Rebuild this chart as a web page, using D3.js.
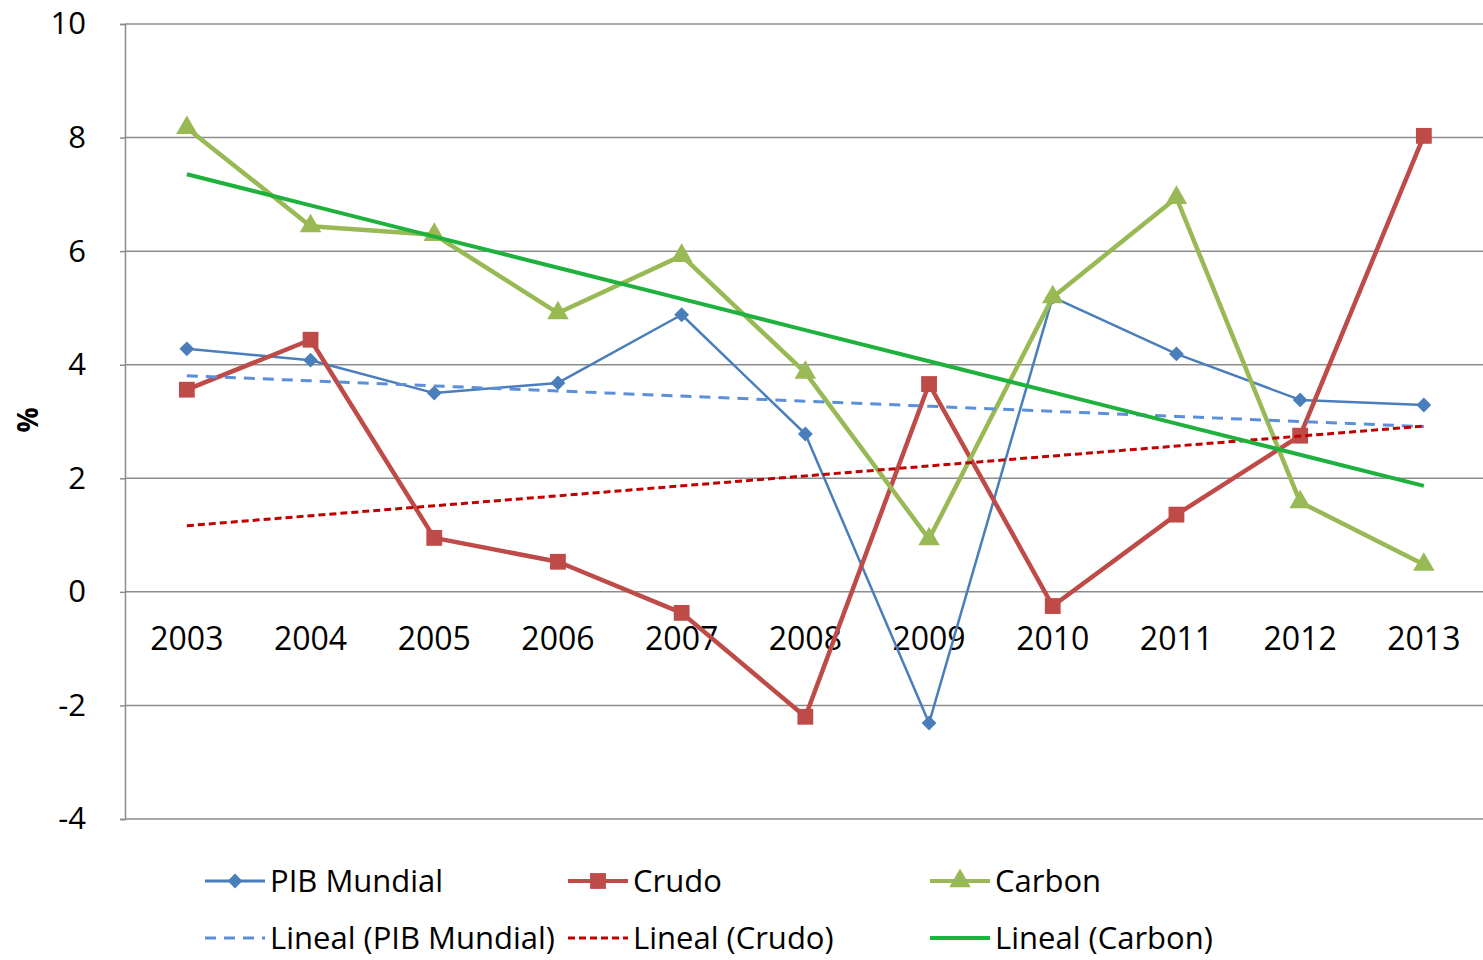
<!DOCTYPE html>
<html>
<head>
<meta charset="utf-8">
<script src="https://cdnjs.cloudflare.com/ajax/libs/d3/7.8.5/d3.min.js"></script>
<style>
  html, body { margin: 0; padding: 0; background: #fff; }
  svg { display: block; font-family: "Open Sans", "Liberation Sans", sans-serif; }
</style>
</head>
<body>
<svg id="chart" width="1483" height="960"></svg>
<script>
// Annual growth rates (%)
const years = ["2003","2004","2005","2006","2007","2008","2009","2010","2011","2012","2013"];
const pibMundial = [4.28, 4.08, 3.50, 3.68, 4.88, 2.78, -2.31, 5.19, 4.19, 3.38, 3.29];
const crudo      = [3.56, 4.44, 0.95, 0.53, -0.37, -2.20, 3.66, -0.25, 1.36, 2.75, 8.03];
const carbon     = [8.17, 6.44, 6.29, 4.91, 5.92, 3.86, 0.93, 5.19, 6.94, 1.58, 0.48];
const yTicks = [-4, -2, 0, 2, 4, 6, 8, 10];
const seriesNames = ["PIB Mundial", "Crudo", "Carbon"];
const trendNames = ["Lineal (PIB Mundial)", "Lineal (Crudo)", "Lineal (Carbon)"];

const svg = d3.select("#chart");
const plot = { left: 125, right: 1483, top: 24, bottom: 819 };

// Category slots run slightly past the visible right edge
const x = d3.scaleBand().domain(years).range([plot.left, plot.left + 11 * 123.7]);
const xc = d => x(d) + x.bandwidth() / 2;
const y = d3.scaleLinear().domain([-4, 10]).range([plot.bottom, plot.top]);

// Gridlines
svg.append("g")
  .selectAll("line").data(yTicks).join("line")
  .attr("x1", plot.left).attr("x2", plot.right)
  .attr("y1", d => y(d)).attr("y2", d => y(d))
  .attr("stroke", "#8c8c8c").attr("stroke-width", 1.5);

// Y axis
const yAxis = d3.axisLeft(y).tickValues(yTicks).tickSize(5).tickPadding(34)
  .tickFormat(d => String(d));
const gy = svg.append("g").attr("transform", `translate(${plot.left},0)`).call(yAxis);
gy.select(".domain").attr("stroke", "#8c8c8c").attr("stroke-width", 1.5);
gy.selectAll(".tick line").attr("stroke", "#8c8c8c").attr("stroke-width", 1.5);
gy.selectAll(".tick text")
  .attr("font-size", 31).attr("fill", "#000")
  .attr("font-family", "'Open Sans', sans-serif");

// Y axis title
svg.append("text")
  .attr("transform", `translate(38,420) rotate(-90)`)
  .attr("text-anchor", "middle")
  .attr("font-size", 28).attr("font-weight", "bold")
  .text("%");

// Category labels sit just under the zero line
svg.append("g").selectAll("text").data(years).join("text")
  .attr("x", d => xc(d)).attr("y", y(0) + 58)
  .attr("text-anchor", "middle")
  .attr("font-size", 32).attr("fill", "#000")
  .text(d => d);

// Least-squares trend line over the category index
function trend(values) {
  const n = values.length;
  const xs = d3.range(n);
  const mx = d3.mean(xs), my = d3.mean(values);
  const slope = d3.sum(xs, i => (i - mx) * (values[i] - my)) / d3.sum(xs, i => (i - mx) ** 2);
  const icpt = my - slope * mx;
  return xs.map(i => icpt + slope * i);
}

const line = d3.line().x((d, i) => xc(years[i])).y(d => y(d));

const trends = [
  { name: trendNames[0], values: trend(pibMundial), color: "#5b8fd8", width: 3, dash: "11,8" },
  { name: trendNames[1], values: trend(crudo), color: "#c00000", width: 3, dash: "7,4" },
  { name: trendNames[2], values: trend(carbon), color: "#1fb13d", width: 4, dash: null }
];

const series = [
  { name: seriesNames[0], values: pibMundial, color: "#4a7ebb", width: 2.5, marker: "diamond" },
  { name: seriesNames[1], values: crudo, color: "#be4b48", width: 4.5, marker: "square" },
  { name: seriesNames[2], values: carbon, color: "#98b954", width: 4.5, marker: "triangle" }
];

function drawMarker(g, kind, color, cx, cy) {
  let sym, rot = 0;
  if (kind === "diamond") { sym = d3.symbol().type(d3.symbolSquare).size(110); rot = 45; }
  else if (kind === "square") sym = d3.symbol().type(d3.symbolSquare).size(250);
  else sym = d3.symbol().type(d3.symbolTriangle).size(200);
  g.append("path")
    .attr("d", sym())
    .attr("transform", `translate(${cx},${cy}) rotate(${rot})`)
    .attr("fill", color);
}

// Series lines and markers
series.forEach(s => {
  const g = svg.append("g");
  g.append("path").datum(s.values)
    .attr("d", line).attr("fill", "none")
    .attr("stroke", s.color).attr("stroke-width", s.width)
    .attr("stroke-linejoin", "round");
  s.values.forEach((v, i) => drawMarker(g, s.marker, s.color, xc(years[i]), y(v)));
});

// Trend lines on top
trends.forEach(t => {
  svg.append("path").datum(t.values)
    .attr("d", line).attr("fill", "none")
    .attr("stroke", t.color).attr("stroke-width", t.width)
    .attr("stroke-dasharray", t.dash);
});

// Legend
const legCols = [205, 568, 930];
const legRows = [881, 938];
series.forEach((s, i) => {
  const g = svg.append("g");
  const lx = legCols[i], ly = legRows[0];
  g.append("line").attr("x1", lx).attr("x2", lx + 60).attr("y1", ly).attr("y2", ly)
    .attr("stroke", s.color).attr("stroke-width", s.width === 2.5 ? 3 : 4);
  drawMarker(g, s.marker, s.color, lx + 30, ly);
  g.append("text").attr("x", lx + 65).attr("y", ly + 11)
    .attr("font-size", 31).text(s.name);
});
trends.forEach((t, i) => {
  const g = svg.append("g");
  const lx = legCols[i], ly = legRows[1];
  g.append("line").attr("x1", lx).attr("x2", lx + 60).attr("y1", ly).attr("y2", ly)
    .attr("stroke", t.color).attr("stroke-width", t.width)
    .attr("stroke-dasharray", t.dash);
  g.append("text").attr("x", lx + 65).attr("y", ly + 11)
    .attr("font-size", 31).text(t.name);
});
</script>
</body>
</html>
